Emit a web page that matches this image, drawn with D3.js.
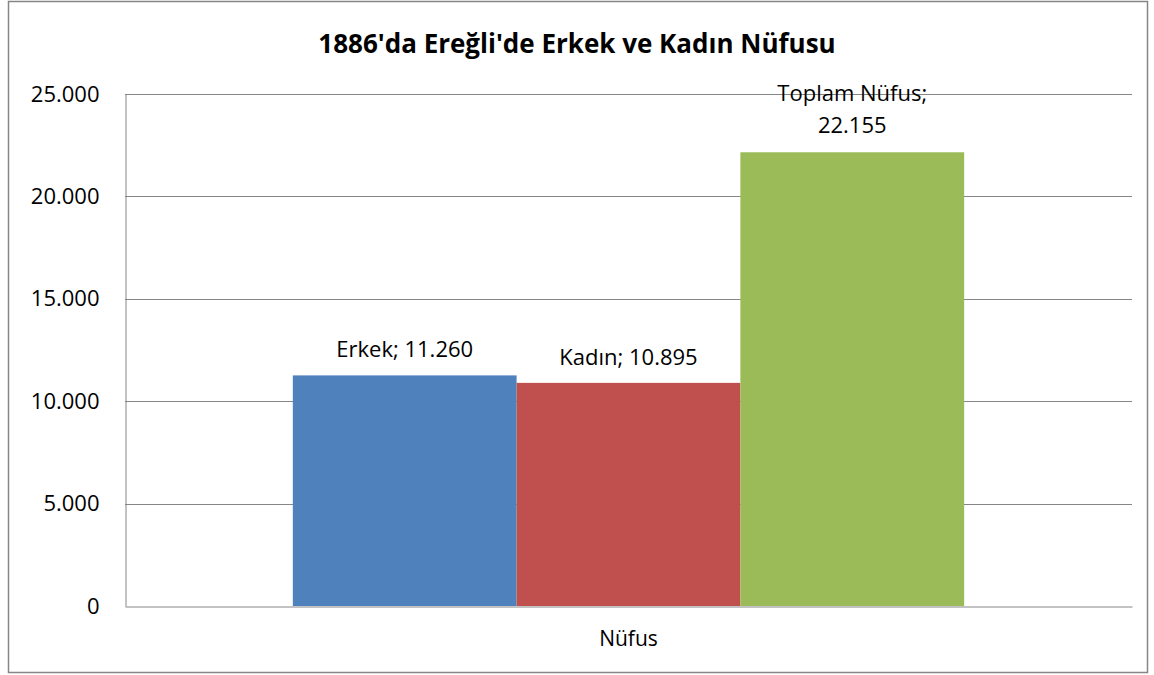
<!DOCTYPE html>
<html>
<head>
<meta charset="utf-8">
<script src="https://cdn.jsdelivr.net/npm/d3@7/dist/d3.min.js"></script>
<style>
  html, body { margin: 0; padding: 0; background: #fff; }
  svg { display: block; font-family: "Open Sans", "Noto Sans", sans-serif; }
</style>
</head>
<body>
<svg id="chart" width="1154" height="675"></svg>
<script>
// 1886'da Ereğli nüfusu – clustered column, one category, three series
const category = 'Nüfus';
const seriesNames = ['Erkek', 'Kadın', 'Toplam Nüfus'];
const seriesValues = [11260, 10895, 22155];
const seriesColors = ['#4F81BD', '#C0504D', '#9BBB59'];
const yTicks = [0, 5000, 10000, 15000, 20000, 25000];
const title = "1886'da Ereğli'de Erkek ve Kadın Nüfusu";

const fmt = (v) => d3.format(',')(v).replace(/,/g, '.');
const FONT = '"Open Sans", "Noto Sans", sans-serif';

const svg = d3.select('#chart');
const plot = { left: 125, right: 1132, top: 94, bottom: 606 };

// outer chart border
svg.append('rect')
  .attr('x', 8.5).attr('y', 1.5).attr('width', 1139).attr('height', 671)
  .attr('fill', '#fff').attr('stroke', '#868686').attr('stroke-width', 1.5);

svg.append('text')
  .attr('x', 577).attr('y', 53)
  .attr('text-anchor', 'middle')
  .attr('font-weight', 'bold').attr('font-size', 26)
  .attr('fill', '#000')
  .text(title);

const y = d3.scaleLinear().domain([0, 25000]).range([plot.bottom, plot.top]);
const x0 = d3.scaleBand().domain([category]).range([plot.left, plot.right]).paddingInner(0).paddingOuter(0);
// Excel gap width 150%: group occupies 3 / 4.5 of the category
const groupW = x0.bandwidth() * 3 / 4.5;
const x1 = d3.scaleBand().domain(seriesNames)
  .range([x0(category) + (x0.bandwidth() - groupW) / 2, x0(category) + (x0.bandwidth() + groupW) / 2]);

// gridlines
svg.append('g')
  .selectAll('line').data(yTicks.filter((t) => t > 0)).enter().append('line')
  .attr('x1', plot.left).attr('x2', plot.right)
  .attr('y1', (d) => Math.round(y(d)) + 0.5).attr('y2', (d) => Math.round(y(d)) + 0.5)
  .attr('stroke', '#868686').attr('stroke-width', 1);

// y axis
const yAxis = svg.append('g')
  .attr('transform', `translate(${plot.left + 0.5},0)`)
  .call(d3.axisLeft(y).tickValues(yTicks).tickFormat(fmt).tickSize(0).tickPadding(26));
yAxis.select('.domain').attr('stroke', '#868686');
yAxis.selectAll('text').attr('font-size', 22).attr('fill', '#000').attr('font-family', FONT);

// bars
svg.append('g').selectAll('rect').data(seriesNames).enter().append('rect')
  .attr('x', (d) => x1(d))
  .attr('width', x1.bandwidth())
  .attr('y', (d, i) => y(seriesValues[i]))
  .attr('height', (d, i) => y(0) - y(seriesValues[i]))
  .attr('fill', (d, i) => seriesColors[i]);

// x axis
const xAxis = svg.append('g')
  .attr('transform', `translate(0,${plot.bottom + 0.5})`)
  .call(d3.axisBottom(x0).tickSize(0).tickPadding(25));
xAxis.select('.domain').attr('stroke', '#868686');
xAxis.selectAll('text').attr('font-size', 21).attr('fill', '#000').attr('font-family', FONT);

// data labels
const labels = svg.append('g').attr('font-size', 22).attr('fill', '#000').attr('text-anchor', 'middle');
seriesNames.forEach((name, i) => {
  const cx = x1(name) + x1.bandwidth() / 2;
  const top = y(seriesValues[i]);
  if (name === 'Toplam Nüfus') {
    const t = labels.append('text').attr('x', cx).attr('y', top - 51);
    t.append('tspan').attr('x', cx).text(`${name};`);
    t.append('tspan').attr('x', cx).attr('dy', 32).text(fmt(seriesValues[i]));
  } else {
    labels.append('text').attr('x', cx).attr('y', top - 18).text(`${name}; ${fmt(seriesValues[i])}`);
  }
});
</script>
</body>
</html>
